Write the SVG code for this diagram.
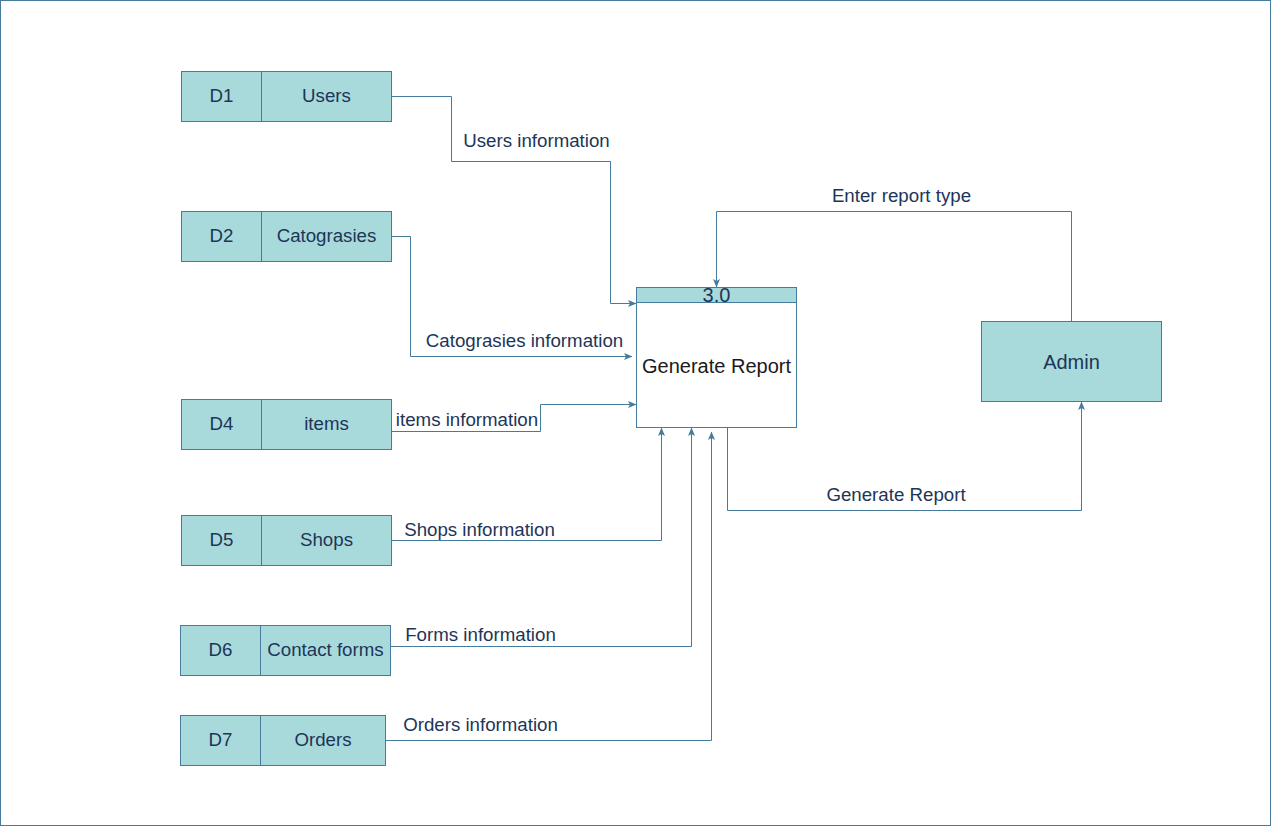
<svg xmlns="http://www.w3.org/2000/svg" width="1273" height="828" viewBox="0 0 1273 828">
<style>
.box{fill:#A8DADC;stroke:#457B9D;stroke-width:1}
.ln{fill:none;stroke:#457B9D;stroke-width:1}
.t{font-family:"Liberation Sans",Arial,sans-serif;font-size:18.7px;fill:#1D3557;text-anchor:middle}
.lb{font-family:"Liberation Sans",Arial,sans-serif;font-size:18.7px;fill:#1D3557;text-anchor:middle}
.big{font-family:"Liberation Sans",Arial,sans-serif;font-size:20px;text-anchor:middle}
</style>
<defs>
<marker id="arr" viewBox="0 0 9 8" refX="8" refY="4" markerWidth="9" markerHeight="8" markerUnits="userSpaceOnUse" orient="auto">
<path d="M0,0.5 L8.5,4 L0,7.5 L2,4 z" fill="#457B9D"/>
</marker>
</defs>
<rect x="0.5" y="0.5" width="1270" height="825" fill="#ffffff" stroke="#457B9D"/>
<g id="connectors">
<polyline class="ln" points="391.5,96.5 451.5,96.5 451.5,161.5 610.5,161.5 610.5,303.5 636,303.5" marker-end="url(#arr)"/>
<polyline class="ln" points="391.5,236.5 410.5,236.5 410.5,356.5 632,356.5" marker-end="url(#arr)"/>
<polyline class="ln" points="391.5,431.5 540.5,431.5 540.5,404.5 636,404.5" marker-end="url(#arr)"/>
<polyline class="ln" points="391.5,540.5 661.5,540.5 661.5,428" marker-end="url(#arr)"/>
<polyline class="ln" points="390.5,646.5 691.5,646.5 691.5,428" marker-end="url(#arr)"/>
<polyline class="ln" points="385.5,740.5 711.5,740.5 711.5,432" marker-end="url(#arr)"/>
<polyline class="ln" points="727.5,427.5 727.5,510.5 1081.5,510.5 1081.5,402" marker-end="url(#arr)"/>
<polyline class="ln" points="1071.5,321.5 1071.5,211.5 716.5,211.5 716.5,287" marker-end="url(#arr)"/>
<text class="lb" x="536.5" y="146.8">Users information</text>
<text class="lb" x="524.5" y="346.8">Catograsies information</text>
<text class="lb" x="467" y="425.8">items information</text>
<text class="lb" x="479.5" y="535.8">Shops information</text>
<text class="lb" x="480.5" y="640.8">Forms information</text>
<text class="lb" x="480.5" y="730.8">Orders information</text>
<text class="lb" x="901.5" y="201.8">Enter report type</text>
<text class="lb" x="896" y="500.8">Generate Report</text>
</g>
<g id="D1">
<rect class="box" x="181.5" y="71.5" width="210" height="50"/>
<line class="ln" x1="261.5" y1="71.5" x2="261.5" y2="121.5"/>
<text class="t" x="221.5" y="101.7">D1</text>
<text class="t" x="326.5" y="101.7">Users</text>
</g>
<g id="D2">
<rect class="box" x="181.5" y="211.5" width="210" height="50"/>
<line class="ln" x1="261.5" y1="211.5" x2="261.5" y2="261.5"/>
<text class="t" x="221.5" y="241.7">D2</text>
<text class="t" x="326.5" y="241.7">Catograsies</text>
</g>
<g id="D4">
<rect class="box" x="181.5" y="399.5" width="210" height="50"/>
<line class="ln" x1="261.5" y1="399.5" x2="261.5" y2="449.5"/>
<text class="t" x="221.5" y="429.7">D4</text>
<text class="t" x="326.5" y="429.7">items</text>
</g>
<g id="D5">
<rect class="box" x="181.5" y="515.5" width="210" height="50"/>
<line class="ln" x1="261.5" y1="515.5" x2="261.5" y2="565.5"/>
<text class="t" x="221.5" y="545.7">D5</text>
<text class="t" x="326.5" y="545.7">Shops</text>
</g>
<g id="D6">
<rect class="box" x="180.5" y="625.5" width="210" height="50"/>
<line class="ln" x1="260.5" y1="625.5" x2="260.5" y2="675.5"/>
<text class="t" x="220.5" y="655.7">D6</text>
<text class="t" x="325.5" y="655.7">Contact forms</text>
</g>
<g id="D7">
<rect class="box" x="180.5" y="715.5" width="205" height="50"/>
<line class="ln" x1="260.5" y1="715.5" x2="260.5" y2="765.5"/>
<text class="t" x="220.5" y="745.7">D7</text>
<text class="t" x="323" y="745.7">Orders</text>
</g>
<g id="P3">
<rect x="636.5" y="287.5" width="160" height="140" fill="#ffffff" stroke="#457B9D"/>
<rect class="box" x="636.5" y="287.5" width="160" height="15"/>
<text class="big" x="716.5" y="302" font-size="20.5" fill="#1D3557">3.0</text>
<text class="big" x="716.5" y="372.5" fill="#1a1a1a">Generate Report</text>
</g>
<g id="Admin">
<rect class="box" x="981.5" y="321.5" width="180" height="80"/>
<text class="big" x="1071.5" y="368.5" fill="#1D3557">Admin</text>
</g>
</svg>
